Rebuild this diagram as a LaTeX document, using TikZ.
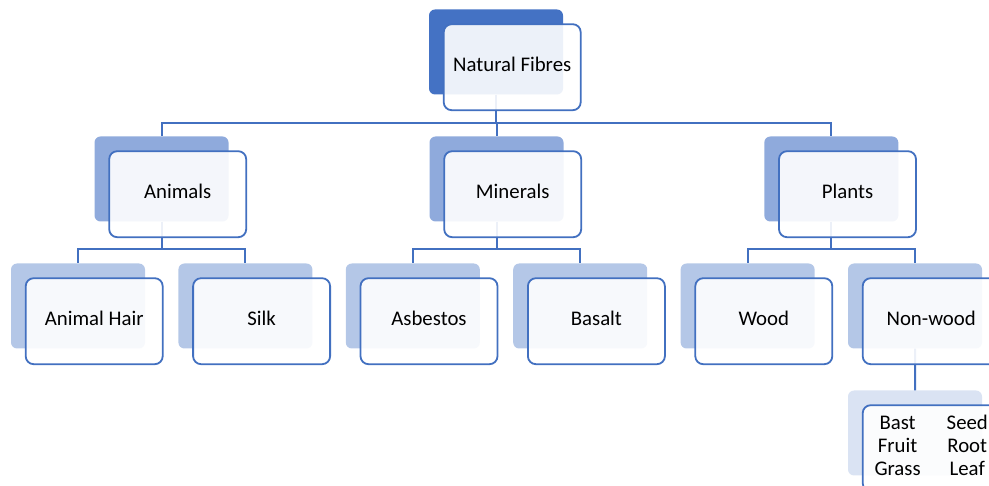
\documentclass[tikz,border=0pt]{standalone}
\usepackage{fontspec}
\setmainfont{Carlito}
\usepackage{tikz}
\usetikzlibrary{positioning}

\definecolor{fibreblue}{HTML}{4270C0}
\definecolor{lvlA}{HTML}{4472C4}
\definecolor{lvlB}{HTML}{8FAADC}
\definecolor{lvlC}{HTML}{B4C7E7}
\definecolor{lvlD}{HTML}{DAE3F3}
\newcommand{\fibrefont}{\fontsize{20.8}{23}\selectfont}

\begin{document}
\begin{tikzpicture}[x=1pt,y=-1pt,node distance=167.4pt]
\tikzstyle{back}=[rounded corners=6pt,minimum width=134pt,minimum height=85pt,inner sep=0pt]
\tikzstyle{front}=[draw=fibreblue,line width=1.8pt,fill=white,fill opacity=0.9,text opacity=1,rounded corners=8pt,minimum width=137pt,minimum height=86pt,inner sep=0pt,text depth=5pt,anchor=north west,font=\fibrefont]
\tikzstyle{link}=[draw=fibreblue,line width=2pt]

\useasboundingbox (0,0) rectangle (989,486);

% shadow boxes
\node[back,fill=lvlA] (nf) at (496,52) {};
\node[back,fill=lvlB] (ani) at (161.5,179) {};
\node[back,fill=lvlB] (min) at (496.5,179) {};
\node[back,fill=lvlB] (pla) at (831.3,179) {};
\node[back,fill=lvlC] (hair) at (78,306) {};
\node[back,fill=lvlC] (silk) [right of=hair] {};
\node[back,fill=lvlC] (asb) [right of=silk] {};
\node[back,fill=lvlC] (bas) [right of=asb] {};
\node[back,fill=lvlC] (wood) [right of=bas] {};
\node[back,fill=lvlC] (nonw) [right of=wood] {};
\node[back,fill=lvlD] (sub) at (915,433) {};

% connectors
\draw[link] (nf.south) -- ++(0,28) -| (ani.north);
\draw[link] (nf.south) -- ++(0,28) -| (min.north);
\draw[link] (nf.south) -- ++(0,28) -| (pla.north);
\draw[link] (ani.south) -- ++(0,27) -| (hair.north);
\draw[link] (ani.south) -- ++(0,27) -| (silk.north);
\draw[link] (min.south) -- ++(0,27) -| (asb.north);
\draw[link] (min.south) -- ++(0,27) -| (bas.north);
\draw[link] (pla.south) -- ++(0,27) -| (wood.north);
\draw[link] (pla.south) -- ++(0,27) -| (nonw.north);
\draw[link] (nonw.south) -- (sub.north);

% text boxes
\node[front] (nf-f) at ([xshift=14pt,yshift=-14pt]nf.north west) {Natural Fibres};
\node[front] (ani-f) at ([xshift=14pt,yshift=-14pt]ani.north west) {Animals};
\node[front] (min-f) at ([xshift=14pt,yshift=-14pt]min.north west) {Minerals};
\node[front] (pla-f) at ([xshift=14pt,yshift=-14pt]pla.north west) {Plants};
\node[front] (hair-f) at ([xshift=14pt,yshift=-14pt]hair.north west) {Animal Hair};
\node[front] (silk-f) at ([xshift=14pt,yshift=-14pt]silk.north west) {Silk};
\node[front] (asb-f) at ([xshift=14pt,yshift=-14pt]asb.north west) {Asbestos};
\node[front] (bas-f) at ([xshift=14pt,yshift=-14pt]bas.north west) {Basalt};
\node[front] (wood-f) at ([xshift=14pt,yshift=-14pt]wood.north west) {Wood};
\node[front] (nonw-f) at ([xshift=14pt,yshift=-14pt]nonw.north west) {Non-wood};
\node[front,text depth=] (sub-f) at ([xshift=14pt,yshift=-14pt]sub.north west) {\begin{tabular}{@{}c@{\hspace{26pt}}c@{}}Bast & Seed\\ Fruit & Root\\ Grass & Leaf\end{tabular}};
\end{tikzpicture}
\end{document}
